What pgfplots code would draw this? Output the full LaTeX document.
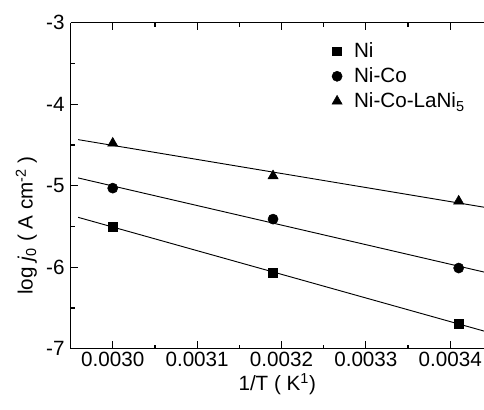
\documentclass[border=0pt]{standalone}
\usepackage{fontspec}
\setmainfont{Liberation Sans}
\usepackage{pgfplots}
\pgfplotsset{compat=1.18}
\begin{document}
\begin{tikzpicture}
\begin{axis}[
  scale only axis,
  width=310.6pt, height=245pt,
  xmin=0.00295, xmax=0.00344,
  ymin=-7, ymax=-3,
  axis x line*=box, axis y line*=left,
  axis line style={line width=0.9pt},
  scaled x ticks=false,
  xtick={0.0030,0.0031,0.0032,0.0033,0.0034},
  xticklabels={0.0030,0.0031,0.0032,0.0033,0.0034},
  ytick={-7,-6,-5,-4,-3},
  yticklabels={-7,-6,-5,-4,-3},
  minor x tick num=1, minor y tick num=1,
  tick align=inside,
  major tick length=5.5pt, minor tick length=3pt,
  tick style={line width=0.9pt, black},
  every tick label/.append style={font=\fontsize{15.5}{17}\selectfont},
  xticklabel style={yshift=1pt},
  yticklabel style={xshift=-1pt},
  label style={font=\fontsize{15.5}{17}\selectfont},
  xlabel={1/T ( K\textsuperscript{1})},
  xlabel style={yshift=2pt},
  ylabel={log \textit{j}\textsubscript{0} ( A cm\textsuperscript{-2} )},
  ylabel style={at={(ticklabel cs:0.378)}},
  legend style={draw=none, fill=none, at={(rel axis cs:0.62,0.955)}, anchor=north west,
    font=\fontsize{15.5}{17}\selectfont, row sep=2pt},
  legend cell align=left,
  legend image code/.code={\path (0,0) (0.52cm,0); \draw[#1] plot coordinates {(0.15cm,0cm)};},
]
\addplot[only marks, mark=square*, mark size=3.3pt, black] coordinates {
  (0.0030,-5.50) (0.00319,-6.07) (0.00341,-6.69)};
\addlegendentry{Ni}
\addplot[only marks, mark=*, mark size=3.8pt, black] coordinates {
  (0.0030,-5.03) (0.00319,-5.41) (0.00341,-6.01)};
\addlegendentry{Ni-Co}
\addplot[only marks, mark=triangle*, mark size=4.4pt, black] coordinates {
  (0.0030,-4.48) (0.00319,-4.88) (0.00341,-5.19)};
\addlegendentry{Ni-Co-LaNi\textsubscript{5}}
\addplot[forget plot, black, line width=0.7pt] coordinates {(0.002959,-5.388) (0.00345,-6.812)};
\addplot[forget plot, black, line width=0.7pt] coordinates {(0.002959,-4.905) (0.00345,-6.083)};
\addplot[forget plot, black, line width=0.7pt] coordinates {(0.002959,-4.435) (0.00345,-5.281)};
\coordinate (sw) at (rel axis cs:0,0);
\coordinate (ne) at (rel axis cs:1,1);
\end{axis}
\pgfresetboundingbox
\path[use as bounding box] ([shift={(-53pt,-45.5pt)}]sw) rectangle ([shift={(0pt,17pt)}]ne);
\end{tikzpicture}
\end{document}
